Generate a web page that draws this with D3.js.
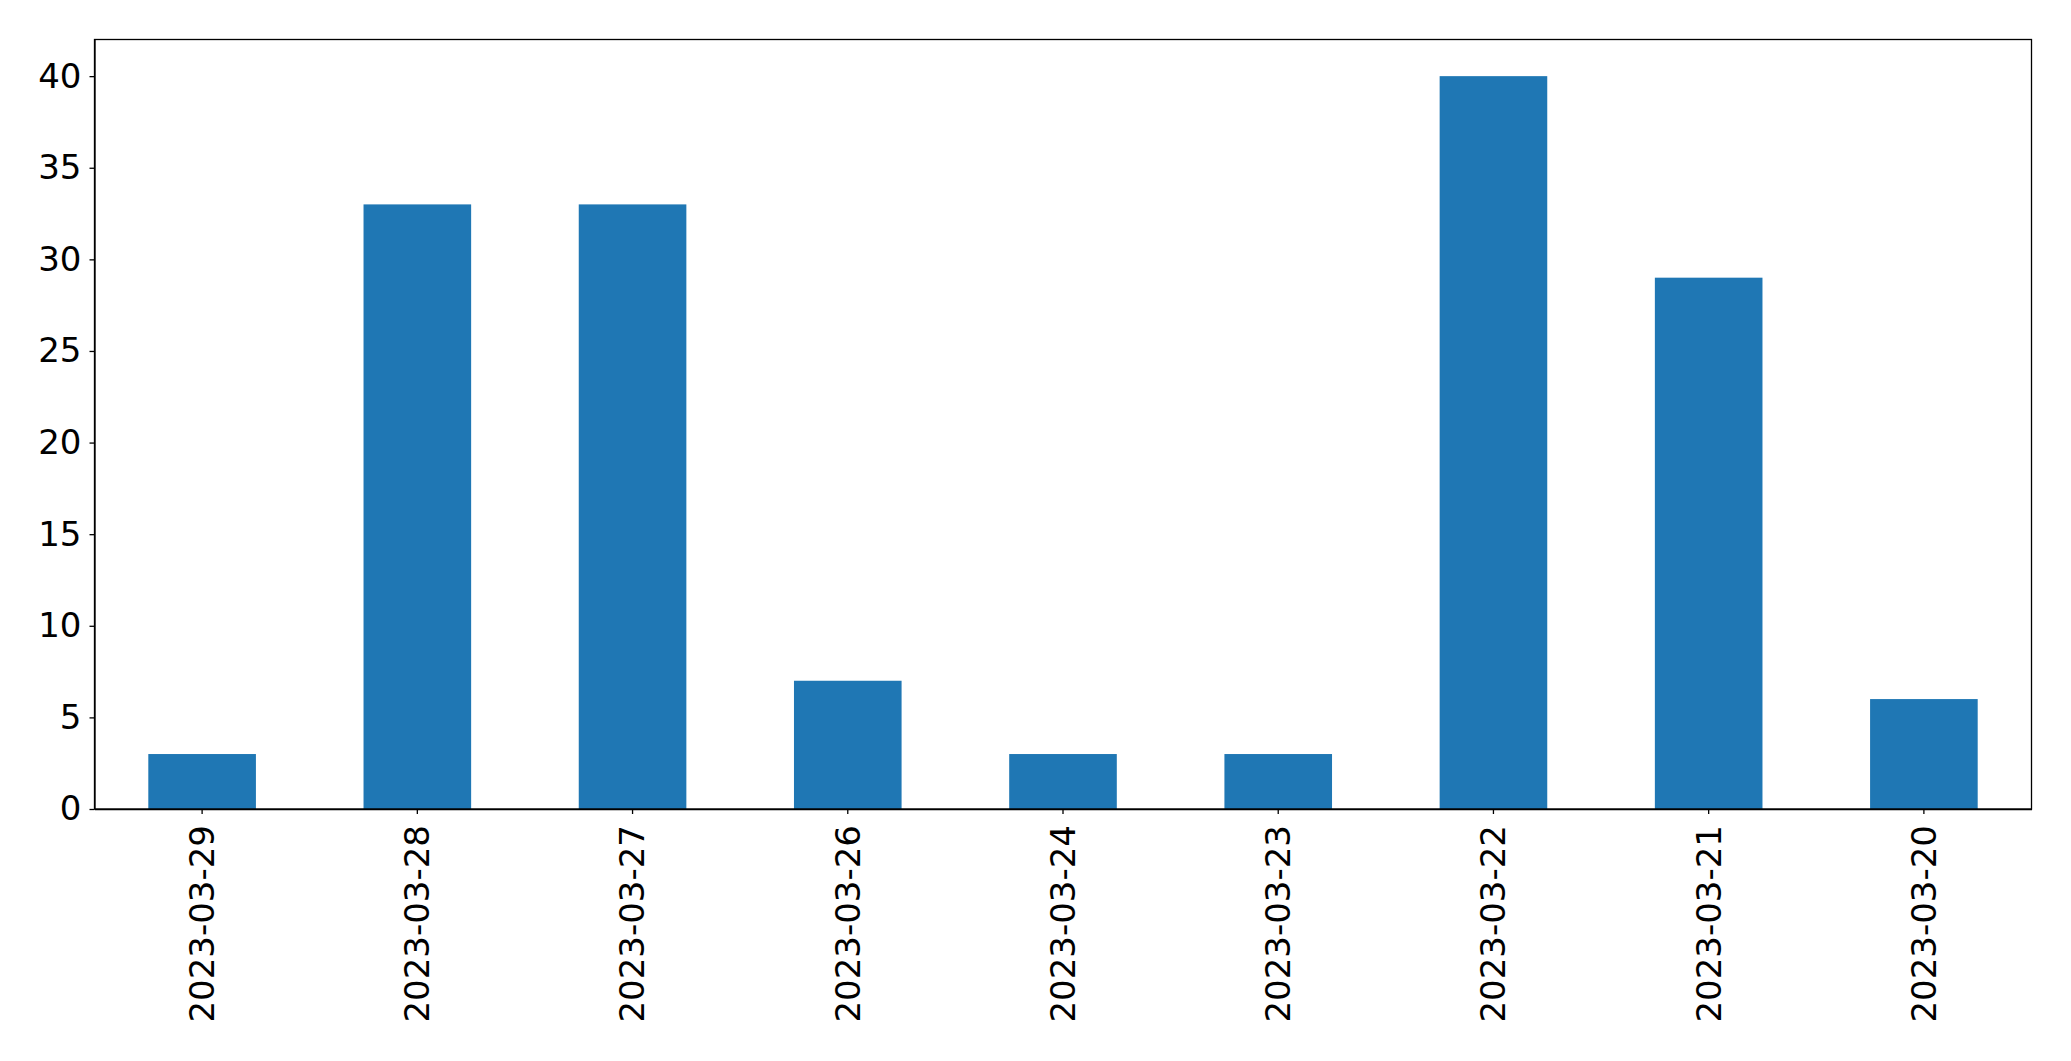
<!DOCTYPE html>
<html>
<head>
<meta charset="utf-8">
<script src="https://cdn.jsdelivr.net/npm/d3@7"></script>
<style>
  body { margin: 0; background: #fff; }
  .axis text { font-family: "DejaVu Sans", sans-serif; font-size: 34px; fill: #000; }
  .axis path, .axis line { stroke: #000; stroke-width: 1.3px; }
</style>
</head>
<body>
<div id="chart"></div>
<script>
var dates = ["2023-03-29", "2023-03-28", "2023-03-27", "2023-03-26", "2023-03-24",
             "2023-03-23", "2023-03-22", "2023-03-21", "2023-03-20"];
var counts = [3, 33, 33, 7, 3, 3, 40, 29, 6];
var yTicks = [0, 5, 10, 15, 20, 25, 30, 35, 40];

var margin = {top: 39.5, right: 39.5, bottom: 252, left: 94.5},
    width = 2071 - margin.left - margin.right,
    height = 1061 - margin.top - margin.bottom;

var x = d3.scaleBand()
    .domain(dates)
    .range([0, width])
    .paddingInner(0.5)
    .paddingOuter(0.25);

var y = d3.scaleLinear()
    .domain([0, 42])
    .range([height, 0]);

var svg = d3.select("#chart").append("svg")
    .attr("width", 2071)
    .attr("height", 1061)
  .append("g")
    .attr("transform", "translate(" + margin.left + "," + margin.top + ")");

svg.selectAll(".bar")
    .data(dates)
  .enter().append("rect")
    .attr("class", "bar")
    .attr("x", function(d) { return x(d); })
    .attr("width", x.bandwidth())
    .attr("y", function(d, i) { return y(counts[i]); })
    .attr("height", function(d, i) { return height - y(counts[i]); })
    .attr("fill", "#1f77b4");

svg.append("g")
    .attr("class", "axis axis--y")
    .call(d3.axisLeft(y).tickValues(yTicks).tickSize(5).tickPadding(8).tickSizeOuter(0));

var xAxis = svg.append("g")
    .attr("class", "axis axis--x")
    .attr("transform", "translate(0," + height + ")")
    .call(d3.axisBottom(x).tickSize(5).tickPadding(8).tickSizeOuter(0));

xAxis.selectAll("text")
    .attr("transform", "rotate(-90)")
    .attr("x", -16)
    .attr("y", 0)
    .attr("dy", "0.35em")
    .style("text-anchor", "end");

// frame
svg.append("rect")
    .attr("width", width)
    .attr("height", height)
    .attr("fill", "none")
    .attr("stroke", "#000")
    .attr("stroke-width", 1.3);
</script>
</body>
</html>
